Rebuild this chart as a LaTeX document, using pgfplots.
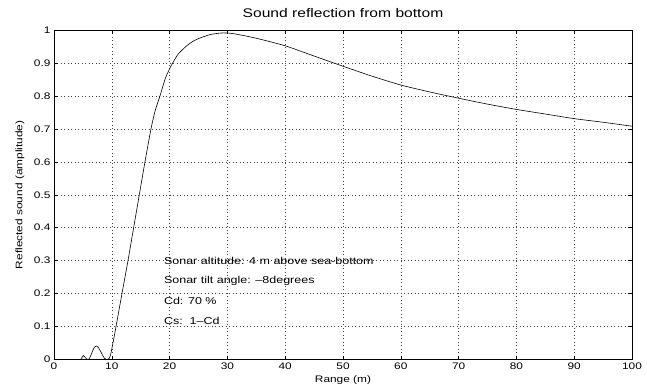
\documentclass[border=0pt]{standalone}
\usepackage{fontspec}
\setmainfont{Liberation Sans}[FakeStretch=1.25]
\usepackage{pgfplots}
\pgfplotsset{compat=1.18}
\begin{document}
\begin{tikzpicture}
\begin{axis}[
  at={(0,0)}, anchor=south west,
  scale only axis, width=578pt, height=329.5pt,
  xmin=0, xmax=100, ymin=0, ymax=1,
  xtick={0,10,...,100},
  ytick={0,0.1,...,1},
  yticklabels={0,0.1,0.2,0.3,0.4,0.5,0.6,0.7,0.8,0.9,1},
  tick align=inside,
  major tick length=4pt,
  grid=major,
  major grid style={black!75, line width=0.45pt, dash pattern=on 0.5pt off 3pt},
  axis line style={black, line width=0.6pt},
  tick style={black, line width=0.5pt},
  /pgf/number format/assume math mode=true,
  ticklabel style={font=\fontsize{9.5}{11}\selectfont},
  every axis title shift=0pt,
  title={Sound reflection from bottom},
  title style={at={(axis description cs:0.5,1.053)}, anchor=center, font=\fontsize{12.5}{14}\selectfont},
  xlabel={Range (m)},
  xlabel style={at={(axis description cs:0.5,-0.062)}, anchor=center, font=\fontsize{9.5}{11}\selectfont},
  ylabel={Reflected sound (amplitude)},
  ylabel style={at={(axis description cs:-0.0588,0.5)}, anchor=center, font=\fontsize{9.5}{11}\selectfont},
]
\addplot[black, line width=0.6pt, smooth, tension=0.4] coordinates {
(0,0) (4.5,0) (4.8,0.005) (5.1,0.012) (5.4,0.006) (5.8,0.0)
(6.1,0.002) (6.5,0.018) (6.9,0.035) (7.3,0.041) (7.7,0.036) (8.2,0.02) (8.7,0.004) (9.1,0.0)
(9.5,0.002) (9.8,0.015) (10.2,0.05) (10.73,0.10) (11.76,0.20) (12.80,0.30) (13.78,0.40)
(14.76,0.50) (15.74,0.60) (16.78,0.70) (17.5,0.755) (18.34,0.80) (19.3,0.855) (20.36,0.895)
(21.5,0.927) (22.95,0.952) (24,0.965)
(25,0.974) (27,0.986) (29,0.991) (31,0.989) (35,0.975) (40,0.952) (45,0.921)
(50,0.89) (55,0.86) (60,0.833) (65,0.812) (70,0.793) (75,0.775) (80,0.759)
(85,0.745) (90,0.731) (95,0.72) (100,0.708)
};
\node[anchor=west, inner sep=0pt, font=\fontsize{10}{12}\selectfont] at (axis cs:19,0.299) {Sonar altitude: 4 m above sea-bottom};
\node[anchor=west, inner sep=0pt, font=\fontsize{10}{12}\selectfont] at (axis cs:19,0.238) {Sonar tilt angle: --8degrees};
\node[anchor=west, inner sep=0pt, font=\fontsize{10}{12}\selectfont] at (axis cs:19,0.178) {Cd: 70 \%};
\node[anchor=west, inner sep=0pt, font=\fontsize{10}{12}\selectfont] at (axis cs:19,0.117) {Cs:\ \ 1--Cd};
\end{axis}
\pgfresetboundingbox
\path[use as bounding box] (-54pt,-29.5pt) rectangle (593pt,359.5pt);
\end{tikzpicture}
\end{document}
